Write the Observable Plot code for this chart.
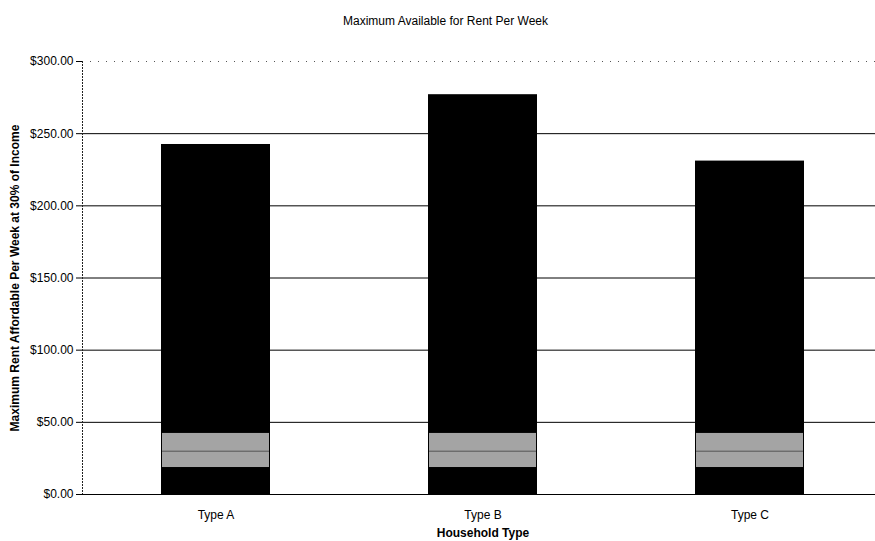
<!DOCTYPE html>
<html>
<head>
<meta charset="utf-8">
<script src="https://cdn.jsdelivr.net/npm/d3@7"></script>
<script src="https://cdn.jsdelivr.net/npm/@observablehq/plot@0.6"></script>
<style>
  html, body { margin: 0; padding: 0; background: #fff; }
  #chart { width: 875px; height: 541px; overflow: hidden; }
  #chart svg { max-width: none !important; }
</style>
</head>
<body>
<div id="chart"></div>
<script>
const categories = ["Type A", "Type B", "Type C"];
const values = [242.5, 277, 231];
const yTicks = [0, 50, 100, 150, 200, 250, 300];
const titleText = "Maximum Available for Rent Per Week";
const yLabel = "Maximum Rent Affordable Per Week at 30% of Income";
const xLabel = "Household Type";
// grey scan band visible inside every bar (approx. $18–$43)
const bandLow = [18, 18, 18];
const bandHigh = [43, 43, 43];
const bandMid = [30, 30, 30];

const data = categories.map((c, i) => ({type: c, value: values[i], lo: bandLow[i], hi: bandHigh[i], mid: bandMid[i]}));

const chart = Plot.plot({
  width: 883,
  height: 541,
  marginTop: 61,
  marginBottom: 47,
  marginLeft: 82,
  marginRight: 0,
  style: {fontFamily: "Liberation Sans, Arial, sans-serif", fontSize: "12px", color: "#000", background: "#fff", maxWidth: "none"},
  x: {domain: categories, paddingInner: 0.592, paddingOuter: 0.296},
  y: {domain: [0, 300]},
  marks: [
    Plot.ruleY(yTicks.filter(d => d > 0 && d < 300), {stroke: "#000", strokeWidth: 1}),
    Plot.ruleY([300], {stroke: "#555", strokeWidth: 1, strokeDasharray: "1,7"}),
    Plot.barY(data, {x: "type", y: "value", fill: "#000"}),
    Plot.barY(data, {x: "type", y1: "lo", y2: "hi", fill: "#a4a4a4", inset: 1}),
    Plot.tickY(data, {x: "type", y: "mid", stroke: "#555", strokeWidth: 1, inset: 1}),
    Plot.ruleY([0], {stroke: "#000", strokeWidth: 1}),
    Plot.axisY({
      ticks: yTicks,
      tickFormat: d => "$" + d.toFixed(2),
      tickSize: 6,
      tickPadding: 3,
      label: yLabel,
      labelArrow: "none",
      labelAnchor: "center",
      labelOffset: 72,
      fontSize: 12
    }),
    Plot.axisX({
      tickSize: 0,
      tickPadding: 16,
      label: null,
      fontSize: 12
    }),
    Plot.text([xLabel], {frameAnchor: "bottom", dy: 42, fontSize: 12, fontWeight: "bold", fill: "#000"}),
    Plot.text([titleText], {frameAnchor: "top-left", textAnchor: "middle", dx: 363, dy: -45, fontSize: 12, fill: "#000"})
  ]
});

document.getElementById("chart").appendChild(chart);
const svg = d3.select(chart);
// bold y-axis label
svg.selectAll("g[aria-label='y-axis label'] text").attr("font-weight", "bold").attr("font-size", 12);
// left axis line (dotted dark)
svg.append("line")
  .attr("x1", 82.5).attr("x2", 82.5)
  .attr("y1", 61).attr("y2", 494)
  .attr("stroke", "#222").attr("stroke-dasharray", "2,1");
</script>
</body>
</html>
